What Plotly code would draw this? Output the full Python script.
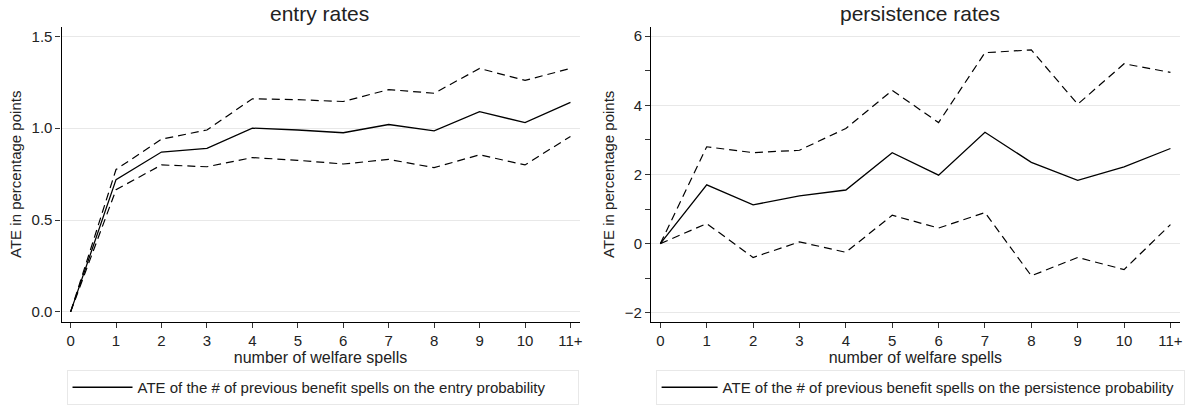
import plotly.graph_objects as go

categories = ["0", "1", "2", "3", "4", "5", "6", "7", "8", "9", "10", "11+"]

entry_ate = [0, 0.72, 0.87, 0.89, 1.0, 0.99, 0.975, 1.02, 0.985, 1.09, 1.03, 1.14]
entry_upper = [0, 0.775, 0.94, 0.99, 1.16, 1.155, 1.145, 1.21, 1.19, 1.325, 1.26, 1.325]
entry_lower = [0, 0.665, 0.80, 0.79, 0.84, 0.825, 0.805, 0.83, 0.785, 0.855, 0.80, 0.955]

pers_ate = [0, 1.7, 1.12, 1.38, 1.55, 2.63, 1.98, 3.22, 2.35, 1.83, 2.22, 2.75]
pers_upper = [0, 2.8, 2.63, 2.7, 3.33, 4.43, 3.5, 5.52, 5.6, 4.03, 5.2, 4.95]
pers_lower = [0, 0.58, -0.4, 0.05, -0.25, 0.82, 0.45, 0.9, -0.93, -0.4, -0.75, 0.55]

titles = ["entry rates", "persistence rates"]
legend_names = [
    "ATE of the # of previous benefit spells on the entry probability",
    "ATE of the # of previous benefit spells on the persistence probability",
]
xpos = list(range(len(categories)))

FONT = "Liberation Sans, Arial, sans-serif"
fig = go.Figure()

def add_panel(xa, ya, ate, up, lo, name, legend):
    fig.add_trace(go.Scatter(x=xpos, y=ate, mode="lines", name=name,
                             line=dict(color="black", width=1.3),
                             xaxis=xa, yaxis=ya, legend=legend, showlegend=True))
    for s in (up, lo):
        fig.add_trace(go.Scatter(x=xpos, y=s, mode="lines",
                                 line=dict(color="black", width=1.2, dash="8px,5px"),
                                 xaxis=xa, yaxis=ya, showlegend=False))

add_panel("x", "y", entry_ate, entry_upper, entry_lower, legend_names[0], "legend")
add_panel("x2", "y2", pers_ate, pers_upper, pers_lower, legend_names[1], "legend2")

xcommon = dict(range=[-0.2, 11.2], tickvals=xpos, ticktext=categories,
               ticks="outside", ticklen=5, tickcolor="#333", showline=True,
               linecolor="black", linewidth=1.2, showgrid=False, zeroline=False,
               tickfont=dict(size=15, color="#222"),
               title=dict(text="number of welfare spells", font=dict(size=16, color="#222"), standoff=2))
ycommon = dict(ticks="outside", ticklen=5, tickcolor="#333", showline=True,
               linecolor="black", linewidth=1.2, showgrid=True, gridcolor="#e8e8e8",
               gridwidth=1, zeroline=False, tickfont=dict(size=15, color="#222"),
               title=dict(text="ATE in percentage points", font=dict(size=15, color="#222"), standoff=6))

legend_common = dict(xanchor="left", yanchor="top", bordercolor="#e8e8e8", borderwidth=1,
                     bgcolor="white", font=dict(size=15, color="#222"),
                     orientation="h", entrywidthmode="pixels")

fig.update_layout(
    width=1195, height=405,
    margin=dict(l=0, r=0, t=0, b=0),
    paper_bgcolor="white", plot_bgcolor="white",
    font=dict(family=FONT, color="#222"),
    xaxis=dict(domain=[0.0516, 0.4862], anchor="y", **xcommon),
    yaxis=dict(domain=[0.1975, 0.9333], anchor="x", range=[-0.054, 1.552],
               tickvals=[0, 0.5, 1.0, 1.5], ticktext=["0.0", "0.5", "1.0", "1.5"], **ycommon),
    xaxis2=dict(domain=[0.5462, 0.9897], anchor="y2", **xcommon),
    yaxis2=dict(domain=[0.1975, 0.9333], anchor="x2", range=[-2.26, 6.27],
                tickvals=[-2, 0, 2, 4, 6], ticktext=["\u22122", "0", "2", "4", "6"],
                minor=dict(tickvals=[-1, 1, 3, 5], ticks="outside", ticklen=5, tickcolor="#333", showgrid=False),
                **ycommon),
    legend=dict(x=0.0558, y=0.0765, entrywidth=435, itemwidth=60, **legend_common),
    legend2=dict(x=0.550, y=0.0765, entrywidth=456, itemwidth=56, **legend_common),
    annotations=[
        dict(text=titles[0], x=0.2682, y=0.9654, xref="paper", yref="paper",
             xanchor="center", yanchor="middle", showarrow=False, font=dict(size=21, color="#222")),
        dict(text=titles[1], x=0.7715, y=0.9654, xref="paper", yref="paper",
             xanchor="center", yanchor="middle", showarrow=False, font=dict(size=21, color="#222")),
    ],
)

fig.write_html("out.html", config={"displayModeBar": False},
               post_script="document.body.style.margin='0';")
